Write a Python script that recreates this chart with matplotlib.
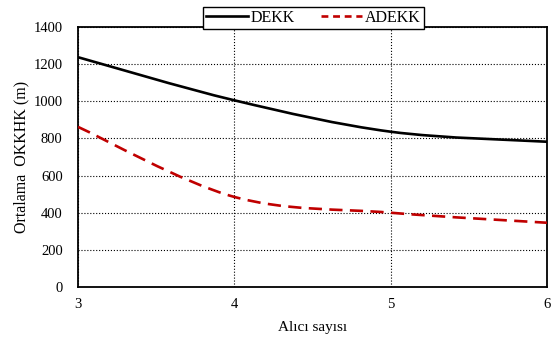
import matplotlib
matplotlib.use("Agg")
import matplotlib.pyplot as plt
import numpy as np
from matplotlib.path import Path
from matplotlib.patches import PathPatch
from matplotlib.lines import Line2D

plt.rcParams['font.family'] = ['Liberation Serif', 'DejaVu Serif']

receivers = [3, 4, 5, 6]
dekk = [1237, 1005, 836, 782]
adekk = [862, 485, 400, 346]


def smooth_path(xs, ys):
    # Excel style smoothed line: cubic Bezier through the data points
    pts = np.column_stack([xs, ys]).astype(float)
    n = len(pts)
    verts = [pts[0]]
    codes = [Path.MOVETO]
    for i in range(n - 1):
        p0 = pts[max(i - 1, 0)]
        p1 = pts[i]
        p2 = pts[i + 1]
        p3 = pts[min(i + 2, n - 1)]
        c1 = p1 + (p2 - p0) / 6.0
        c2 = p2 - (p3 - p1) / 6.0
        verts += [c1, c2, p2]
        codes += [Path.CURVE4] * 3
    return Path(verts, codes)


fig = plt.figure(figsize=(5.57, 3.45), dpi=100)
ax = fig.add_axes([0.140, 0.168, 0.842, 0.754])

ax.add_patch(PathPatch(smooth_path(receivers, dekk), fill=False,
                       edgecolor='black', lw=1.9, zorder=3))
ax.add_patch(PathPatch(smooth_path(receivers, adekk), fill=False,
                       edgecolor='#C00000', lw=1.9, linestyle=(0, (5.0, 2.8)),
                       zorder=3))

ax.set_xlim(3, 6)
ax.set_ylim(0, 1400)
ax.set_xticks(receivers)
ax.set_yticks(np.arange(0, 1401, 200))
ax.grid(True, color='black', linestyle=':', linewidth=0.8)
ax.tick_params(length=0, labelsize=10.5, colors='black')
ax.tick_params(axis='y', pad=11)
ax.tick_params(axis='x', pad=8)
for s in ax.spines.values():
    s.set_linewidth(1.3)
    s.set_color('black')

ax.set_xlabel('Alıcı sayısı', fontsize=11, labelpad=7)
ax.set_ylabel('Ortalama  OKKHK (m)', fontsize=11.5, labelpad=3)

handles = [Line2D([], [], color='black', lw=1.9),
           Line2D([], [], color='#C00000', lw=1.9, linestyle=(0, (2.6, 1.8)))]
leg = fig.legend(handles, ['DEKK', 'ADEKK'], loc='upper center',
                 bbox_to_anchor=(0.563, 0.995), ncol=2, fontsize=11.5,
                 frameon=True, fancybox=False, edgecolor='black',
                 framealpha=1, borderpad=0.2, handlelength=2.6,
                 handletextpad=0.2, columnspacing=1.6, borderaxespad=0.3)
leg.get_frame().set_linewidth(1.0)

fig.savefig('out.png', dpi=100)
